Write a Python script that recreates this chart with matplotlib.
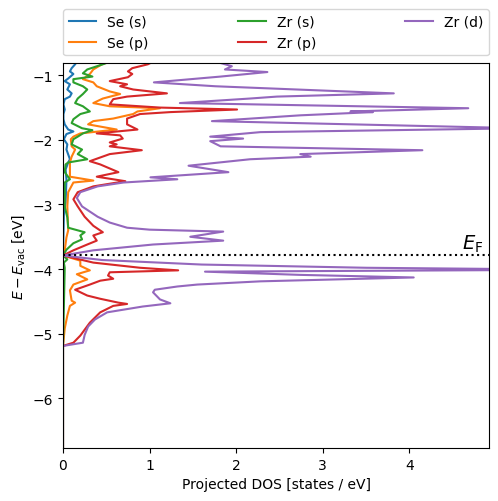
import numpy as np
import matplotlib
matplotlib.use("Agg")
import matplotlib.pyplot as plt

# Fermi level and axis limits [eV]
e_fermi = -3.79
dos_max = 4.92
e_min, e_max = -6.77, -0.81

# projected DOS (energy [eV], DOS [states/eV])
se_s_E = [-0.81, -0.83, -0.89, -0.94, -0.98, -1.05, -1.09, -1.14, -1.22, -1.28, -1.33, -1.37,
          -1.45, -1.53, -1.60, -1.68, -1.76, -1.84, -1.87, -1.91, -1.99, -2.07, -2.15, -2.30,
          -2.35, -2.46, -2.61, -2.97, -3.16, -3.79, -6.8]
se_s = [0.15, 0.14, 0.10, 0.08, 0.12, 0.06, 0.02, 0.08, 0.05, 0.10, 0.08, 0.02,
        0.005, 0.02, 0.005, 0.005, 0.02, 0.06, 0.12, 0.04, 0.01, 0.05, 0.04, 0.08,
        0.06, 0.03, 0.04, 0.03, 0.01, 0.0, 0.0]

se_p_E = [-0.81, -0.83, -0.91, -0.98, -1.06, -1.11, -1.17, -1.25, -1.29, -1.36, -1.43, -1.48,
          -1.51, -1.56, -1.60, -1.67, -1.71, -1.76, -1.84, -1.90, -1.95, -1.99, -2.10, -2.15,
          -2.26, -2.35, -2.57, -2.63, -2.66, -2.81, -3.03, -3.40, -3.51, -3.71, -3.79, -3.87,
          -3.95, -4.02, -4.08, -4.16, -4.24, -4.33, -4.49, -4.52, -4.57, -4.72, -4.92, -5.19, -6.8]
se_p = [0.49, 0.45, 0.35, 0.31, 0.23, 0.35, 0.39, 0.54, 0.66, 0.46, 0.35, 0.54,
        1.12, 0.86, 0.81, 0.58, 0.35, 0.29, 0.62, 0.20, 0.12, 0.09, 0.10, 0.14,
        0.10, 0.08, 0.08, 0.35, 0.12, 0.06, 0.05, 0.06, 0.04, 0.02, 0.0, 0.20,
        0.20, 0.31, 0.16, 0.28, 0.12, 0.08, 0.10, 0.14, 0.08, 0.05, 0.02, 0.0, 0.0]

zr_s_E = [-0.81, -0.83, -0.91, -0.97, -1.02, -1.06, -1.11, -1.17, -1.22, -1.29, -1.36, -1.43,
          -1.48, -1.56, -1.60, -1.68, -1.74, -1.82, -1.85, -1.90, -1.95, -1.99, -2.07, -2.15,
          -2.22, -2.30, -2.35, -2.38, -2.50, -2.61, -2.66, -3.03, -3.20, -3.36, -3.43, -3.48,
          -3.54, -3.60, -3.70, -3.79, -3.85, -3.90, -3.98, -5.19, -6.8]
zr_s = [0.50, 0.46, 0.28, 0.23, 0.34, 0.12, 0.12, 0.23, 0.28, 0.23, 0.17, 0.14,
        0.23, 0.31, 0.20, 0.12, 0.10, 0.22, 0.34, 0.23, 0.17, 0.12, 0.10, 0.22,
        0.17, 0.28, 0.06, 0.03, 0.02, 0.08, 0.02, 0.02, 0.05, 0.06, 0.25, 0.20,
        0.22, 0.12, 0.04, 0.0, 0.05, 0.01, 0.02, 0.0, 0.0]

zr_p_E = [-0.81, -0.83, -0.89, -0.94, -0.98, -1.03, -1.09, -1.14, -1.17, -1.22, -1.28, -1.33,
          -1.37, -1.45, -1.50, -1.53, -1.57, -1.60, -1.67, -1.76, -1.84, -1.90, -1.93, -1.98,
          -2.04, -2.07, -2.10, -2.16, -2.22, -2.33, -2.38, -2.50, -2.57, -2.64, -2.72, -2.81,
          -2.92, -3.03, -3.19, -3.33, -3.43, -3.48, -3.56, -3.62, -3.71, -3.79, -3.90, -3.98,
          -4.02, -4.05, -4.10, -4.15, -4.18, -4.24, -4.32, -4.41, -4.46, -4.52, -4.54, -4.57,
          -4.67, -4.83, -5.03, -5.14, -5.19, -6.8]
zr_p = [1.01, 0.98, 0.80, 0.75, 0.80, 0.75, 0.54, 0.74, 0.66, 0.81, 1.20, 0.74,
        0.58, 0.54, 1.12, 2.01, 1.24, 0.89, 0.74, 0.74, 0.86, 0.39, 0.66, 0.69,
        0.54, 0.62, 0.54, 0.91, 0.54, 0.31, 0.43, 0.64, 0.39, 0.72, 0.35, 0.17,
        0.12, 0.17, 0.25, 0.35, 0.46, 0.35, 0.39, 0.28, 0.12, 0.0, 0.35, 0.89,
        1.33, 0.54, 0.52, 0.58, 0.43, 0.31, 0.14, 0.28, 0.43, 0.64, 0.74, 0.58,
        0.43, 0.31, 0.20, 0.12, 0.0, 0.0]

zr_d_E = [-0.81, -0.86, -0.91, -0.95, -1.02, -1.11, -1.17, -1.28, -1.33, -1.36, -1.43, -1.51,
          -1.56, -1.57, -1.62, -1.71, -1.82, -1.88, -1.95, -1.98, -2.02, -2.10, -2.16, -2.22,
          -2.26, -2.30, -2.40, -2.50, -2.58, -2.61, -2.66, -2.72, -2.81, -2.90, -3.03, -3.19,
          -3.28, -3.36, -3.39, -3.42, -3.50, -3.56, -3.62, -3.71, -3.79, -3.86, -3.93, -3.98,
          -4.01, -4.04, -4.09, -4.13, -4.19, -4.24, -4.27, -4.32, -4.36, -4.47, -4.53, -4.58,
          -4.67, -4.78, -4.89, -5.02, -5.14, -5.19, -6.8]
zr_d = [1.82, 1.95, 1.87, 2.36, 1.82, 1.05, 1.76, 3.82, 2.47, 2.16, 1.35, 4.68,
        3.32, 3.58, 2.74, 1.72, 5.30, 2.28, 1.70, 2.08, 1.70, 1.82, 4.15, 2.74,
        2.86, 2.16, 1.45, 1.91, 1.01, 1.32, 0.70, 0.40, 0.20, 0.16, 0.22, 0.40,
        0.54, 0.74, 1.00, 1.85, 1.47, 1.85, 1.04, 0.35, 0.0, 0.45, 1.60, 3.50,
        6.00, 1.64, 2.74, 4.05, 2.28, 1.55, 1.32, 1.06, 1.04, 1.12, 1.24, 0.92,
        0.51, 0.37, 0.29, 0.25, 0.23, 0.0, 0.0]

fig = plt.figure(figsize=(4.98, 5.02), dpi=100)
ax = fig.add_axes([0.1265, 0.1056, 0.8555, 0.7669])

ax.plot(se_s, se_s_E, label='Se (s)')
ax.plot(se_p, se_p_E, label='Se (p)')
ax.plot(zr_s, zr_s_E, label='Zr (s)')
ax.plot(zr_p, zr_p_E, label='Zr (p)')
ax.plot(zr_d, zr_d_E, label='Zr (d)')

ax.axhline(e_fermi, color='k', linestyle=':', linewidth=1.5)
ax.text(dos_max - 0.07, e_fermi + 0.02, r'$E_\mathrm{F}$', ha='right', va='bottom', fontsize=14)

ax.set_xlim(0, dos_max)
ax.set_ylim(e_min, e_max)
ax.set_xlabel('Projected DOS [states / eV]')
ax.set_ylabel(r'$E - E_\mathrm{vac}$ [eV]')
ax.legend(bbox_to_anchor=(0., 1.02, 1., .102), loc='lower left', ncol=3, mode='expand', borderaxespad=0.)

fig.savefig('out.png', dpi=100)
